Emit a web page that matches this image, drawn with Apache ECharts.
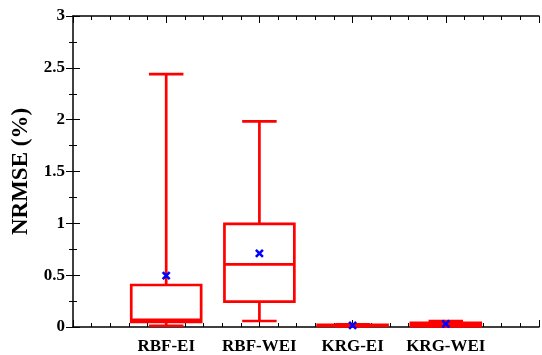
<!DOCTYPE html>
<html>
<head>
<meta charset="utf-8">
<script src="https://cdn.jsdelivr.net/npm/echarts@6/dist/echarts.min.js"></script>
<style>html,body{margin:0;padding:0;background:#fff}#c{width:542px;height:355px}</style>
</head>
<body>
<div id="c"></div>
<script>
const categories = ['RBF-EI', 'RBF-WEI', 'KRG-EI', 'KRG-WEI'];
const whiskerMin = [0.012, 0.058, 0.006, 0.008];
const q1Values = [0.05, 0.245, 0.01, 0.006];
const medianValues = [0.068, 0.605, 0.015, 0.03];
const q3Values = [0.405, 0.994, 0.02, 0.04];
const whiskerMax = [2.44, 1.984, 0.025, 0.058];
const meanValues = [0.495, 0.71, 0.015, 0.03];
const yTicks = [0, 0.5, 1, 1.5, 2, 2.5, 3];

const boxData = categories.map((c, i) => [i + 1, whiskerMin[i], q1Values[i], medianValues[i], q3Values[i], whiskerMax[i]]);
const meanData = categories.map((c, i) => [i + 1, meanValues[i]]);

const RED = '#ff0000';
const LW = 2.7;
function renderBox(params, api) {
  const x = api.value(0);
  const pMin = api.coord([x, api.value(1)]);
  const pQ1 = api.coord([x, api.value(2)]);
  const pMed = api.coord([x, api.value(3)]);
  const pQ3 = api.coord([x, api.value(4)]);
  const pMax = api.coord([x, api.value(5)]);
  const hb = api.size([0.75, 0])[0] / 2;
  const hc = api.size([0.37, 0])[0] / 2;
  const cx = pQ1[0];
  const st = {stroke: RED, lineWidth: LW, fill: null};
  return {
    type: 'group',
    children: [
      {type: 'line', shape: {x1: cx, y1: pQ3[1], x2: cx, y2: pMax[1]}, style: st},
      {type: 'line', shape: {x1: cx, y1: pQ1[1], x2: cx, y2: pMin[1]}, style: st},
      {type: 'line', shape: {x1: cx - hc, y1: pMax[1], x2: cx + hc, y2: pMax[1]}, style: st},
      {type: 'line', shape: {x1: cx - hc, y1: pMin[1], x2: cx + hc, y2: pMin[1]}, style: st},
      {type: 'rect', shape: {x: cx - hb, y: pQ3[1], width: 2 * hb, height: pQ1[1] - pQ3[1]}, style: {stroke: RED, lineWidth: LW, fill: 'none'}},
      {type: 'line', shape: {x1: cx - hb, y1: pMed[1], x2: cx + hb, y2: pMed[1]}, style: st}
    ]
  };
}
function renderMean(params, api) {
  const p = api.coord([api.value(0), api.value(1)]);
  const s = 3.5;
  const st = {stroke: '#0000ff', lineWidth: 2.6};
  return {
    type: 'group',
    children: [
      {type: 'line', shape: {x1: p[0] - s, y1: p[1] - s, x2: p[0] + s, y2: p[1] + s}, style: st},
      {type: 'line', shape: {x1: p[0] - s, y1: p[1] + s, x2: p[0] + s, y2: p[1] - s}, style: st}
    ]
  };
}

const FONT = "'Liberation Serif', 'Times New Roman', serif";
const axLine = {show: true, onZero: false, lineStyle: {color: '#000', width: 1.5}};
const tick = {show: true, inside: true, length: 7, lineStyle: {color: '#000', width: 1}};
const minor = (n) => ({show: true, splitNumber: n, length: 4, lineStyle: {color: '#000', width: 1}});

const chart = echarts.init(document.getElementById('c'), null, {renderer: 'canvas'});
chart.setOption({
  animation: false,
  backgroundColor: '#fff',
  grid: {left: 73, right: 0, top: 16, bottom: 28, containLabel: false},
  xAxis: [
    {type: 'value', min: 0, max: categories.length + 1, interval: 1, position: 'bottom',
     axisLine: axLine, axisTick: tick, minorTick: minor(5), splitLine: {show: false},
     axisLabel: {show: true, margin: 11, color: '#000', fontFamily: FONT, fontWeight: 'bold', fontSize: 17,
       formatter: v => (v >= 1 && v <= categories.length ? categories[v - 1] : '')}},
    {type: 'value', min: 0, max: categories.length + 1, interval: 1, position: 'top',
     axisLine: axLine, axisTick: tick, minorTick: minor(5), splitLine: {show: false}, axisLabel: {show: false}}
  ],
  yAxis: [
    {type: 'value', min: yTicks[0], max: yTicks[yTicks.length - 1], interval: 0.5, position: 'left',
     name: 'NRMSE (%)', nameLocation: 'middle', nameGap: 32,
     nameTextStyle: {color: '#000', fontFamily: FONT, fontWeight: 'bold', fontSize: 23},
     axisLine: axLine, axisTick: tick, minorTick: minor(2), splitLine: {show: false},
     axisLabel: {show: true, margin: 8, color: '#000', fontFamily: FONT, fontWeight: 'bold', fontSize: 17}},
    {type: 'value', min: yTicks[0], max: yTicks[yTicks.length - 1], interval: 0.5, position: 'right',
     axisLine: {show: false}, axisTick: tick, minorTick: minor(2), splitLine: {show: false}, axisLabel: {show: false}}
  ],
  series: [
    {type: 'custom', xAxisIndex: 0, yAxisIndex: 0, renderItem: renderBox, data: boxData, clip: false},
    {type: 'custom', xAxisIndex: 0, yAxisIndex: 0, renderItem: renderMean, data: meanData, clip: false, z: 5}
  ]
});
</script>
</body>
</html>
